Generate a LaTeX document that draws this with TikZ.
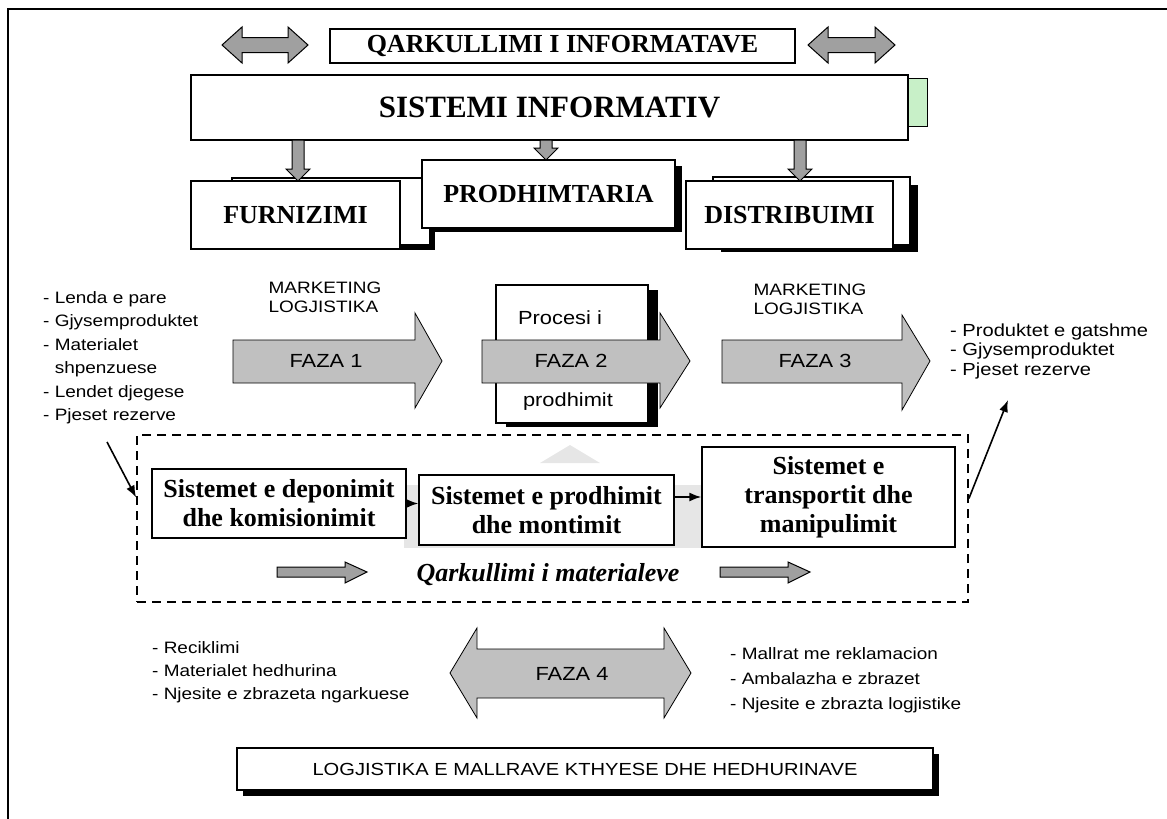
\documentclass[tikz,border=0pt]{standalone}
\usepackage{fontspec}
\setmainfont{Liberation Serif}
\newfontfamily\swide[FakeStretch=1.15]{Liberation Sans}
\usetikzlibrary{arrows.meta,calc}
\definecolor{faza}{RGB}{192,192,192}
\definecolor{darr}{RGB}{160,160,160}
\definecolor{tabgreen}{RGB}{200,240,200}
\definecolor{faint}{RGB}{230,230,230}
\newcommand\fTitle{\fontsize{31}{34}\selectfont\bfseries}
\newcommand\fBox{\fontsize{26}{29}\selectfont\bfseries}
\newcommand\fFaza{\swide\fontsize{19}{22}\selectfont}
\newcommand\darrow[3]{\draw[blockA] (#1-6,#2) -- (#1+6,#2) -- (#1+6,#3-12) -- (#1+12,#3-12) -- (#1,#3) -- (#1-12,#3-12) -- (#1-6,#3-12) -- cycle;}
\begin{document}
\begin{tikzpicture}[x=1pt,y=-1pt,
  box/.style={draw=black, line width=1.4pt, fill=white, inner sep=0pt, align=center, font=\fBox},
  backbox/.style={draw=black, line width=1.2pt, fill=white},
  blockA/.style={draw=black, line width=1pt, fill=darr},
  blockB/.style={draw=black, line width=0.8pt, fill=faza},
  conn/.style={line width=1.6pt, -{Latex[length=12pt,width=9pt]}},
  txt/.style={inner sep=0pt, align=left},
  fz/.style={inner sep=0pt, font=\fFaza},
]
\useasboundingbox (0,0) rectangle (1167,819);
% outer frame
\draw[line width=2.5pt] (8,819) -- (8,9) -- (1167,9);

% top row
\draw[blockA] (222,45) -- (242,27) -- (242,37.5) -- (288,37.5) -- (288,27) -- (308,45) -- (288,63) -- (288,52.5) -- (242,52.5) -- (242,63) -- cycle;
\node[box, minimum width=465pt, minimum height=34pt] (qark) at (562.5,46) {QARKULLIMI I INFORMATAVE};
\draw[blockA] (808,45) -- (828,27) -- (828,37.5) -- (875,37.5) -- (875,27) -- (895,45) -- (875,63) -- (875,52.5) -- (828,52.5) -- (828,63) -- cycle;

\draw[line width=1pt, fill=tabgreen] (904,78) rectangle (927,126);
\node[box, font=\fTitle, minimum width=717pt, minimum height=65pt] (sis) at (549.5,107.5) {SISTEMI INFORMATIV};

% functional boxes
\fill (237,183) rectangle (435,250);
\draw[backbox] (232,178) rectangle (430,245);
\node[box, minimum width=209pt, minimum height=68pt] (fur) at (295.5,215) {FURNIZIMI};
\fill (430,166) rectangle (682,232);
\node[box, minimum width=253pt, minimum height=68pt] (prod) at (548.5,194) {PRODHIMTARIA};
\fill (721,185) rectangle (918,252);
\draw[backbox] (713,177) rectangle (910,245);
\node[box, minimum width=207pt, minimum height=68pt] (dist) at (789.5,215) {DISTRIBUIMI};

\darrow{298}{140}{181}
\darrow{546}{140}{160}
\darrow{800}{140}{181}

% phases
\node[txt, anchor=north west, font={\swide\fontsize{16.5}{23.5}\selectfont}] (inl) at (43,291) {- Lenda e pare\\- Gjysemproduktet\\- Materialet\\\hphantom{- }shpenzuese\\- Lendet djegese\\- Pjeset rezerve};
\node[txt, font={\swide\fontsize{16.5}{19}\selectfont}] (mk1) at (325,297) {MARKETING\\LOGJISTIKA};
\draw[blockB] (233,340) -- (415,340) -- (415,313) -- (442,361) -- (415,408) -- (415,383) -- (233,383) -- cycle;
\node[fz] (f1) at (326,361) {FAZA 1};

\fill (506,290) rectangle (658,427);
\draw[backbox] (496,285) rectangle (648,423);
\node[fz] (pr1) at (560,318) {Procesi i};
\node[fz] (pr2) at (568,402) {prodhimit};
\draw[blockB] (482,340) -- (660,340) -- (660,313) -- (690,361) -- (660,408) -- (660,383) -- (482,383) -- cycle;
\node[fz] (f2) at (571,361) {FAZA 2};

\node[txt, font={\swide\fontsize{16.5}{19}\selectfont}] (mk3) at (810,299) {MARKETING\\LOGJISTIKA};
\draw[blockB] (722,340) -- (902,340) -- (902,315) -- (930,361) -- (902,410) -- (902,383) -- (722,383) -- cycle;
\node[fz] (f3) at (815,361) {FAZA 3};
\node[txt, anchor=north west, font={\swide\fontsize{17.5}{19.5}\selectfont}] (outl) at (950,323.5) {- Produktet e gatshme\\- Gjysemproduktet\\- Pjeset rezerve};

% material flow
\fill[faint] (540,463) -- (570,445) -- (600,463) -- cycle;
\fill[faint] (404,485) rectangle (702,548);
\node[draw, dash pattern=on 9pt off 6pt, line width=1.8pt, minimum width=831pt, minimum height=167pt, inner sep=0pt] (mat) at (552.5,518.5) {};
\node[box, minimum width=254pt, minimum height=69pt] (b1) at (279,503.5) {Sistemet e deponimit\\dhe komisionimit};
\node[box, minimum width=255pt, minimum height=70pt] (b2) at (546.5,510) {Sistemet e prodhimit\\dhe montimit};
\node[box, minimum width=253pt, minimum height=100pt] (b3) at (828.5,497) {Sistemet e\\transportit dhe\\manipulimit};
\draw[conn] (b1.east) -- (b2.west |- b1.east);
\draw[conn] (b2.east |- b3.west) -- (b3.west);
\draw[blockA] (277,567) -- (345,567) -- (345,562) -- (367,572) -- (345,583) -- (345,577) -- (277,577) -- cycle;
\node[inner sep=0pt, font=\fBox\itshape] (qm) at (548,575) {Qarkullimi i materialeve};
\draw[blockA] (720,567) -- (788,567) -- (788,562) -- (810,572) -- (788,583) -- (788,577) -- (720,577) -- cycle;

\coordinate (inA) at (107,442);
\draw[conn] (inA) -- ($(mat.west)+(0,-21)$);
\coordinate (outB) at (1008,400);
\draw[conn] ($(mat.east)+(0,-20)$) -- (outB);

% return logistics
\node[txt, anchor=north west, font={\swide\fontsize{16.5}{23}\selectfont}] (retl) at (152,641) {- Reciklimi\\- Materialet hedhurina\\- Njesite e zbrazeta ngarkuese};
\draw[blockB] (450,673) -- (477,628) -- (477,649) -- (664,649) -- (664,628) -- (691,673) -- (664,718) -- (664,698) -- (477,698) -- (477,718) -- cycle;
\node[fz] (f4) at (572,674) {FAZA 4};
\node[txt, anchor=north west, font={\swide\fontsize{16.5}{25}\selectfont}] (retr) at (730,647) {- Mallrat me reklamacion\\- Ambalazha e zbrazet\\- Njesite e zbrazta logjistike};

\fill (243,754) rectangle (939,796);
\node[box, font={\swide\fontsize{17.5}{20}\selectfont}, minimum width=696pt, minimum height=42pt] (logj) at (585,769) {LOGJISTIKA E MALLRAVE KTHYESE DHE HEDHURINAVE};
\end{tikzpicture}
\end{document}
